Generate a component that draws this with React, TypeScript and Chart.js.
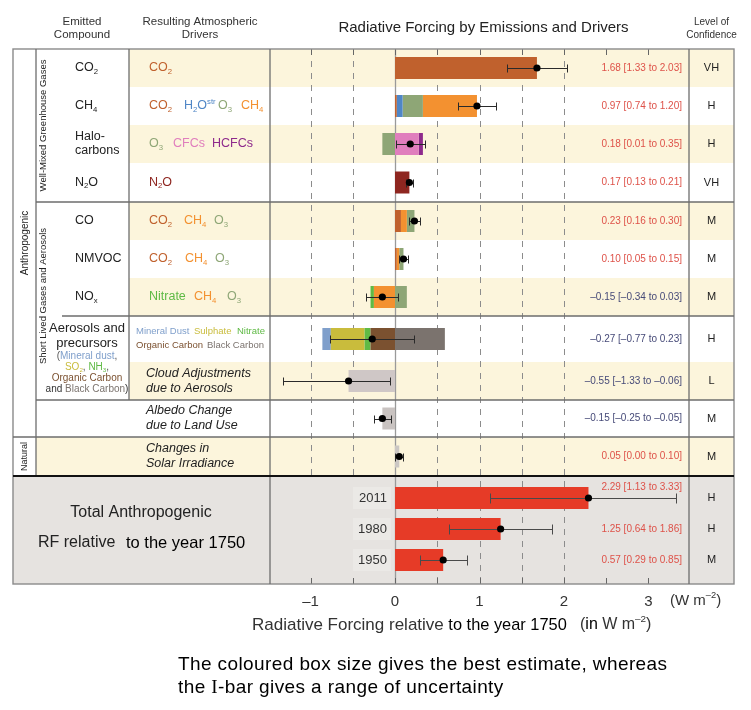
import React, { useEffect, useRef } from 'react';
import { Chart, registerables } from 'chart.js';

Chart.register(...registerables);

// ---------------- DATA (W m-2, relative to 1750) ----------------
const ROW_LABELS = [
  'CO2', 'CH4', 'Halocarbons', 'N2O', 'CO', 'NMVOC', 'NOx',
  'Aerosols and precursors', 'Cloud adjustments due to aerosols',
  'Albedo change due to land use', 'Changes in solar irradiance',
  'Total 2011', 'Total 1980', 'Total 1950',
];

// contributions per resulting driver (one entry per row above)
const CO2_DRV = [1.68, 0.02, 0, 0, 0.07, 0.02, 0, 0, 0, 0, 0, 0, 0, 0];
const H2O_STR_DRV = [0, 0.07, 0, 0, 0, 0, 0, 0, 0, 0, 0, 0, 0, 0];
const CH4_SL_DRV = [0, 0, 0, 0, 0.07, 0.03, -0.25, 0, 0, 0, 0, 0, 0, 0];
const O3_DRV = [0, 0.24, -0.15, 0, 0.09, 0.05, 0.14, 0, 0, 0, 0, 0, 0, 0];
const CH4_DRV = [0, 0.64, 0, 0, 0, 0, 0, 0, 0, 0, 0, 0, 0, 0];
const CFC_DRV = [0, 0, 0.28, 0, 0, 0, 0, 0, 0, 0, 0, 0, 0, 0];
const HCFC_DRV = [0, 0, 0.05, 0, 0, 0, 0, 0, 0, 0, 0, 0, 0, 0];
const N2O_DRV = [0, 0, 0, 0.17, 0, 0, 0, 0, 0, 0, 0, 0, 0, 0];
const OC_DRV = [0, 0, 0, 0, 0, 0, 0, -0.29, 0, 0, 0, 0, 0, 0];
const NITRATE_DRV = [0, 0, 0, 0, 0, 0, -0.04, -0.07, 0, 0, 0, 0, 0, 0];
const SULPHATE_DRV = [0, 0, 0, 0, 0, 0, 0, -0.40, 0, 0, 0, 0, 0, 0];
const DUST_DRV = [0, 0, 0, 0, 0, 0, 0, -0.10, 0, 0, 0, 0, 0, 0];
const BC_DRV = [0, 0, 0, 0, 0, 0, 0, 0.59, 0, 0, 0, 0, 0, 0];
const CLOUD_DRV = [0, 0, 0, 0, 0, 0, 0, 0, -0.55, 0, 0, 0, 0, 0];
const ALBEDO_DRV = [0, 0, 0, 0, 0, 0, 0, 0, 0, -0.15, 0, 0, 0, 0];
const SOLAR_DRV = [0, 0, 0, 0, 0, 0, 0, 0, 0, 0, 0.05, 0, 0, 0];
const TOTAL_DRV = [0, 0, 0, 0, 0, 0, 0, 0, 0, 0, 0, 2.29, 1.25, 0.57];

const BEST = [1.68, 0.97, 0.18, 0.17, 0.23, 0.10, -0.15, -0.27, -0.55, -0.15, 0.05, 2.29, 1.25, 0.57];
const ERR_LO = [1.33, 0.74, 0.01, 0.13, 0.16, 0.05, -0.34, -0.77, -1.33, -0.25, 0.00, 1.13, 0.64, 0.29];
const ERR_HI = [2.03, 1.20, 0.35, 0.21, 0.30, 0.15, 0.03, 0.23, -0.06, -0.05, 0.10, 3.33, 1.86, 0.85];
const CONFIDENCE = ['VH', 'H', 'H', 'VH', 'M', 'M', 'M', 'H', 'L', 'M', 'M', 'H', 'H', 'M'];
const YEARS = ['2011', '1980', '1950'];
const X_TICKS = [-1, 0, 1, 2, 3];
const X_MINOR = [-1, -0.5, 0, 0.5, 1, 1.5, 2, 2.5, 3];
const X_DASHED = [-1, -0.5, 0.5, 1, 1.5, 2];

// ---------------- LAYOUT / STYLE ----------------
const FONT = '"Liberation Sans", Arial, Helvetica, sans-serif';
const SERIF = '"Liberation Serif", "DejaVu Serif", serif';
const W = 751;
const H = 710;
const PLOT_TOP = 49;
const PLOT_LEFT = 270;
const PLOT_RIGHT = 689;
const AXIS_H = 30;
const PLOT_BOTTOM = 584;
const X_OUTER = 13;
const X_GROUP = 36;
const X_COMP = 129;
const X_END = 734;

const ROW_HEIGHTS = [38, 38, 38, 39, 38, 38, 38, 46, 38, 37, 39];
const TOTAL_PAD_TOP = 6.5;
const TOTAL_ROW = 31;
const TOTAL_PAD_BOTTOM = 8.5;
const ROW_TOPS: number[] = [];
const ROW_POS: number[] = [];
let acc = 0;
ROW_HEIGHTS.forEach((h) => { ROW_TOPS.push(acc); ROW_POS.push(acc + h / 2); acc += h; });
const TOTAL_TOP = acc;
acc += TOTAL_PAD_TOP;
for (let k = 0; k < YEARS.length; k++) { ROW_POS.push(acc + TOTAL_ROW / 2); acc += TOTAL_ROW; }
acc += TOTAL_PAD_BOTTOM;
const SPAN = acc;

const C = {
  co2: '#c0612d', h2o: '#4f86c6', o3: '#8ea676', ch4: '#f39130', cfc: '#e07ebd',
  hcfc: '#8e2a8c', n2o: '#8e2620', nit: '#5fba45', dust: '#7f9fcb', sul: '#c9bc3c',
  oc: '#7b5130', bc: '#7b736e', cloud: '#cfc7c6', alb: '#c9c3c1', sol: '#cbc7c4',
  tot: '#e63b27', beige: '#fcf5dc', totalBg: '#e6e3e0', pos: '#de5249', neg: '#464a78',
};

const SEGMENTS = [
  { label: 'CO2', data: CO2_DRV, color: C.co2 },
  { label: 'H2O (stratospheric)', data: H2O_STR_DRV, color: C.h2o },
  { label: 'CH4 (from short-lived gases)', data: CH4_SL_DRV, color: C.ch4 },
  { label: 'O3', data: O3_DRV, color: C.o3 },
  { label: 'CH4', data: CH4_DRV, color: C.ch4 },
  { label: 'CFCs', data: CFC_DRV, color: C.cfc },
  { label: 'HCFCs', data: HCFC_DRV, color: C.hcfc },
  { label: 'N2O', data: N2O_DRV, color: C.n2o },
  { label: 'Organic Carbon', data: OC_DRV, color: C.oc },
  { label: 'Nitrate', data: NITRATE_DRV, color: C.nit },
  { label: 'Sulphate', data: SULPHATE_DRV, color: C.sul },
  { label: 'Mineral Dust', data: DUST_DRV, color: C.dust },
  { label: 'Black Carbon', data: BC_DRV, color: C.bc },
  { label: 'Cloud adjustments', data: CLOUD_DRV, color: C.cloud },
  { label: 'Albedo change', data: ALBEDO_DRV, color: C.alb },
  { label: 'Solar irradiance', data: SOLAR_DRV, color: C.sol },
  { label: 'Total anthropogenic', data: TOTAL_DRV, color: C.tot },
];

type Run = { t: string; c?: string; s?: 'sub' | 'sup'; it?: boolean; fam?: string; sz?: number; wt?: string };

const r = (t: string, c?: string): Run => ({ t, c });
const sb = (t: string, c?: string): Run => ({ t, c, s: 'sub' });
const sp = (t: string, c?: string): Run => ({ t, c, s: 'sup' });

function runFont(run: Run, size: number) {
  const base = run.sz ?? size;
  const sz = run.s ? base * 0.62 : base;
  return `${run.it ? 'italic ' : ''}${run.wt ?? 'normal'} ${sz}px ${run.fam ?? FONT}`;
}

function drawRuns(ctx: CanvasRenderingContext2D, runs: Run[], x: number, y: number, size: number,
  align: 'left' | 'center' | 'right' = 'left', defColor = '#222') {
  let total = 0;
  const widths: number[] = [];
  for (const run of runs) {
    ctx.font = runFont(run, size);
    const w = ctx.measureText(run.t).width;
    widths.push(w);
    total += w;
  }
  let cx = align === 'left' ? x : align === 'center' ? x - total / 2 : x - total;
  ctx.textAlign = 'left';
  ctx.textBaseline = 'middle';
  runs.forEach((run, i) => {
    ctx.font = runFont(run, size);
    ctx.fillStyle = run.c ?? defColor;
    const base = run.sz ?? size;
    const dy = run.s === 'sub' ? base * 0.3 : run.s === 'sup' ? -base * 0.35 : 0;
    ctx.fillText(run.t, cx, y + dy);
    cx += widths[i];
  });
  return total;
}

function rotText(ctx: CanvasRenderingContext2D, t: string, x: number, y: number, size: number) {
  ctx.save();
  ctx.translate(x, y);
  ctx.rotate(-Math.PI / 2);
  ctx.font = `${size}px ${FONT}`;
  ctx.fillStyle = '#222';
  ctx.textAlign = 'center';
  ctx.textBaseline = 'middle';
  ctx.fillText(t, 0, 0);
  ctx.restore();
}

const COMPOUND_TEXT: { row: number; lines: Run[][] }[] = [
  { row: 0, lines: [[r('CO'), sb('2')]] },
  { row: 1, lines: [[r('CH'), sb('4')]] },
  { row: 2, lines: [[r('Halo-')], [r('carbons')]] },
  { row: 3, lines: [[r('N'), sb('2'), r('O')]] },
  { row: 4, lines: [[r('CO')]] },
  { row: 5, lines: [[r('NMVOC')]] },
  { row: 6, lines: [[r('NO'), sb('x')]] },
];

const DRIVER_TEXT: { row: number; dy: number; size: number; items: { x: number; runs: Run[] }[] }[] = [
  { row: 0, dy: 0, size: 12.5, items: [{ x: 149, runs: [r('CO', C.co2), sb('2', C.co2)] }] },
  { row: 1, dy: 0, size: 12.5, items: [
    { x: 149, runs: [r('CO', C.co2), sb('2', C.co2)] },
    { x: 184, runs: [r('H', C.h2o), sb('2', C.h2o), r('O', C.h2o), sp('str', C.h2o)] },
    { x: 218, runs: [r('O', C.o3), sb('3', C.o3)] },
    { x: 241, runs: [r('CH', C.ch4), sb('4', C.ch4)] },
  ] },
  { row: 2, dy: 0, size: 12.5, items: [
    { x: 149, runs: [r('O', C.o3), sb('3', C.o3)] },
    { x: 173, runs: [r('CFCs', C.cfc)] },
    { x: 212, runs: [r('HCFCs', C.hcfc)] },
  ] },
  { row: 3, dy: 0, size: 12.5, items: [{ x: 149, runs: [r('N', C.n2o), sb('2', C.n2o), r('O', C.n2o)] }] },
  { row: 4, dy: 0, size: 12.5, items: [
    { x: 149, runs: [r('CO', C.co2), sb('2', C.co2)] },
    { x: 184, runs: [r('CH', C.ch4), sb('4', C.ch4)] },
    { x: 214, runs: [r('O', C.o3), sb('3', C.o3)] },
  ] },
  { row: 5, dy: 0, size: 12.5, items: [
    { x: 149, runs: [r('CO', C.co2), sb('2', C.co2)] },
    { x: 185, runs: [r('CH', C.ch4), sb('4', C.ch4)] },
    { x: 215, runs: [r('O', C.o3), sb('3', C.o3)] },
  ] },
  { row: 6, dy: 0, size: 12.5, items: [
    { x: 149, runs: [r('Nitrate', C.nit)] },
    { x: 194, runs: [r('CH', C.ch4), sb('4', C.ch4)] },
    { x: 227, runs: [r('O', C.o3), sb('3', C.o3)] },
  ] },
  { row: 7, dy: -8, size: 9.5, items: [
    { x: 136, runs: [r('Mineral Dust', C.dust)] },
    { x: 194, runs: [r('Sulphate', C.sul)] },
    { x: 237, runs: [r('Nitrate', C.nit)] },
  ] },
  { row: 7, dy: 6, size: 9.5, items: [
    { x: 136, runs: [r('Organic Carbon', C.oc)] },
    { x: 207, runs: [r('Black Carbon', C.bc)] },
  ] },
];

const ITALIC_TEXT: { row: number; lines: string[] }[] = [
  { row: 8, lines: ['Cloud Adjustments', 'due to Aerosols'] },
  { row: 9, lines: ['Albedo Change', 'due to Land Use'] },
  { row: 10, lines: ['Changes in', 'Solar Irradiance'] },
];

const fmt = (v: number) => (v < 0 ? '\u2013' : '') + Math.abs(v).toFixed(2);
const fmtTick = (v: number) => (v < 0 ? '\u2013' + Math.abs(v) : String(v));

const tablePlugin = {
  id: 'rfTable',
  beforeDraw(chart: any) {
    const { ctx, chartArea } = chart;
    const xs = chart.scales.x;
    const ys = chart.scales.y;
    const py = (v: number) => ys.getPixelForValue(v);
    ctx.save();
    ctx.fillStyle = '#fff';
    ctx.fillRect(0, 0, W, H);
    // beige stripes
    ctx.fillStyle = C.beige;
    [0, 2, 4, 6, 8].forEach((i) => {
      ctx.fillRect(X_COMP, py(ROW_TOPS[i]), X_END - X_COMP, py(ROW_TOPS[i] + ROW_HEIGHTS[i]) - py(ROW_TOPS[i]));
    });
    ctx.fillRect(X_GROUP, py(ROW_TOPS[10]), X_END - X_GROUP, py(ROW_TOPS[10] + ROW_HEIGHTS[10]) - py(ROW_TOPS[10]));
    // total section
    ctx.fillStyle = C.totalBg;
    ctx.fillRect(X_OUTER, py(TOTAL_TOP), X_END - X_OUTER, py(SPAN) - py(TOTAL_TOP));
    // year label boxes
    ctx.fillStyle = '#ebe9e6';
    YEARS.forEach((_, k) => {
      const y = py(ROW_POS[11 + k]);
      ctx.fillRect(353, y - 11, 38, 22);
    });
    // dashed grid
    ctx.strokeStyle = '#8c8c8c';
    ctx.lineWidth = 1;
    ctx.setLineDash([6, 6]);
    X_DASHED.forEach((v) => {
      const x = Math.round(xs.getPixelForValue(v)) + 0.5;
      ctx.beginPath();
      ctx.moveTo(x, chartArea.top);
      ctx.lineTo(x, v < 0 ? py(TOTAL_TOP) : chartArea.bottom);
      ctx.stroke();
    });
    ctx.setLineDash([]);
    // zero line
    ctx.strokeStyle = '#9a9a9a';
    ctx.lineWidth = 1.3;
    const x0 = Math.round(xs.getPixelForValue(0)) + 0.5;
    ctx.beginPath();
    ctx.moveTo(x0, chartArea.top);
    ctx.lineTo(x0, chartArea.bottom);
    ctx.stroke();
    // inner ticks
    ctx.strokeStyle = '#666';
    ctx.lineWidth = 1;
    X_MINOR.forEach((v) => {
      const x = Math.round(xs.getPixelForValue(v)) + 0.5;
      ctx.beginPath();
      ctx.moveTo(x, chartArea.top);
      ctx.lineTo(x, chartArea.top + 6);
      ctx.moveTo(x, chartArea.bottom);
      ctx.lineTo(x, chartArea.bottom - 6);
      ctx.stroke();
    });
    ctx.restore();
  },
  beforeDatasetDraw(chart: any, args: any) {
    if (chart.data.datasets[args.index].type !== 'scatter') return;
    const { ctx } = chart;
    const xs = chart.scales.x;
    const ys = chart.scales.y;
    ctx.save();
    BEST.forEach((_, i) => {
      const y = Math.round(ys.getPixelForValue(ROW_POS[i])) + 0.5;
      const a = Math.round(xs.getPixelForValue(ERR_LO[i])) + 0.5;
      const b = Math.round(xs.getPixelForValue(ERR_HI[i])) + 0.5;
      const total = i >= 11;
      const cap = total ? 5 : 4;
      ctx.strokeStyle = total ? '#4a4a4a' : '#2a2a2a';
      ctx.lineWidth = 1;
      ctx.beginPath();
      ctx.moveTo(a, y); ctx.lineTo(b, y);
      ctx.moveTo(a, y - cap); ctx.lineTo(a, y + cap);
      ctx.moveTo(b, y - cap); ctx.lineTo(b, y + cap);
      ctx.stroke();
    });
    ctx.restore();
  },
  afterDraw(chart: any) {
    const { ctx, chartArea } = chart;
    const ys = chart.scales.y;
    const py = (v: number) => ys.getPixelForValue(v);
    const L = chartArea.left;
    const R = chartArea.right;
    const T = chartArea.top;
    const B = chartArea.bottom;
    ctx.save();
    const hline = (y: number, x1: number, x2: number, col = '#6d6d6d', w = 1.3) => {
      ctx.strokeStyle = col; ctx.lineWidth = w;
      ctx.beginPath(); ctx.moveTo(x1, y); ctx.lineTo(x2, y); ctx.stroke();
    };
    const vline = (x: number, y1: number, y2: number, col = '#6d6d6d', w = 1.3) => {
      ctx.strokeStyle = col; ctx.lineWidth = w;
      ctx.beginPath(); ctx.moveTo(x, y1); ctx.lineTo(x, y2); ctx.stroke();
    };
    // frame & grid of the table
    ctx.strokeStyle = '#8a8a8a';
    ctx.lineWidth = 1.4;
    ctx.strokeRect(X_OUTER, T, X_END - X_OUTER, B - T);
    vline(X_GROUP, T, py(TOTAL_TOP));
    vline(X_COMP, T, py(ROW_TOPS[9]));
    vline(L, T, B);
    vline(R, T, B);
    hline(py(ROW_TOPS[4]), X_GROUP, X_END);
    hline(py(ROW_TOPS[7]), 62, X_END);
    hline(py(ROW_TOPS[9]), X_GROUP, X_END);
    hline(py(ROW_TOPS[10]), X_OUTER, X_END);
    hline(py(TOTAL_TOP), X_OUTER, X_END, '#111', 2);

    // headers
    drawRuns(ctx, [r('Emitted')], 82, 22, 11.5, 'center', '#333');
    drawRuns(ctx, [r('Compound')], 82, 35, 11.5, 'center', '#333');
    drawRuns(ctx, [r('Resulting Atmospheric')], 200, 22, 11.5, 'center', '#333');
    drawRuns(ctx, [r('Drivers')], 200, 35, 11.5, 'center', '#333');
    drawRuns(ctx, [r('Radiative Forcing by Emissions and Drivers')], (L + R) / 2 + 4, 28, 15, 'center', '#222');
    drawRuns(ctx, [r('Level of')], (R + X_END) / 2, 22, 10, 'center', '#333');
    drawRuns(ctx, [r('Confidence')], (R + X_END) / 2, 35, 10, 'center', '#333');

    // group labels
    rotText(ctx, 'Anthropogenic', 25, (T + py(ROW_TOPS[10])) / 2, 10);
    rotText(ctx, 'Natural', 25, (py(ROW_TOPS[10]) + py(TOTAL_TOP)) / 2, 9);
    rotText(ctx, 'Well-Mixed Greenhouse Gases', 43, (T + py(ROW_TOPS[4])) / 2, 9.5);
    rotText(ctx, 'Short Lived Gases and Aerosols', 43, (py(ROW_TOPS[4]) + py(ROW_TOPS[9])) / 2 - 5, 9.5);

    // compounds
    COMPOUND_TEXT.forEach(({ row, lines }) => {
      const cy = py(ROW_POS[row]);
      const n = lines.length;
      lines.forEach((runs, k) => {
        drawRuns(ctx, runs, 75, cy + (k - (n - 1) / 2) * 14, 12.5, 'left', '#222');
      });
    });
    // aerosol compound block
    const at = py(ROW_TOPS[7]);
    drawRuns(ctx, [r('Aerosols and')], 87, at + 12, 13, 'center', '#222');
    drawRuns(ctx, [r('precursors')], 87, at + 27, 13, 'center', '#222');
    drawRuns(ctx, [r('(', '#555'), r('Mineral dust', C.dust), r(',', '#555')], 87, at + 40, 10, 'center');
    drawRuns(ctx, [r('SO', C.sul), sb('2', C.sul), r(', ', '#555'), r('NH', C.nit), sb('3', C.nit), r(',', '#555')], 87, at + 51, 10, 'center');
    drawRuns(ctx, [r('Organic Carbon', C.oc)], 87, at + 62, 10, 'center');
    drawRuns(ctx, [r('and ', '#333'), r('Black Carbon', C.bc), r(')', '#333')], 87, at + 73, 10, 'center');

    // drivers
    DRIVER_TEXT.forEach(({ row, dy, size, items }) => {
      const cy = py(ROW_POS[row]) + dy;
      items.forEach((it) => drawRuns(ctx, it.runs, it.x, cy, size, 'left'));
    });
    ITALIC_TEXT.forEach(({ row, lines }) => {
      const cy = py(ROW_POS[row]);
      lines.forEach((t, k) => {
        drawRuns(ctx, [{ t, it: true }], 146, cy - 7.5 + k * 15, 12.5, 'left', '#222');
      });
    });

    // values and confidence
    BEST.forEach((b, i) => {
      const cy = py(ROW_POS[i]) + (i === 11 ? -11 : 0);
      drawRuns(ctx, [r(`${fmt(b)} [${fmt(ERR_LO[i])} to ${fmt(ERR_HI[i])}]`)], 682, cy, 10, 'right', b < 0 ? C.neg : C.pos);
      drawRuns(ctx, [r(CONFIDENCE[i])], (R + X_END) / 2, py(ROW_POS[i]), 11, 'center', '#222');
    });

    // total section
    YEARS.forEach((yr, k) => {
      drawRuns(ctx, [r(yr)], 387, py(ROW_POS[11 + k]), 13, 'right', '#333');
    });
    const tt = py(TOTAL_TOP);
    drawRuns(ctx, [r('Total Anthropogenic')], 141, tt + 37, 16, 'center', '#222');
    drawRuns(ctx, [r('RF relative')], 38, tt + 67, 16, 'left', '#222');
    drawRuns(ctx, [r('to the year 1750')], 126, tt + 67, 16.5, 'left', '#000');

    // axis unit and title
    drawRuns(ctx, [r('(W m'), sp('\u20132'), r(')')], 670, 601, 15, 'left', '#333');
    drawRuns(ctx, [r('Radiative Forcing relative', '#333'), { t: ' to the year 1750', c: '#000', sz: 16.4 }], 252, 625, 17, 'left');
    drawRuns(ctx, [r('(', '#333'), r('in', '#000'), r(' W m', '#333'), sp('\u20132', '#333'), r(')', '#333')], 580, 625, 16, 'left');

    // footnote
    (ctx as any).letterSpacing = '0.4px';
    drawRuns(ctx, [r('The coloured box size gives the best estimate, whereas')], 178, 665, 19, 'left', '#000');
    drawRuns(ctx, [r('the '), { t: 'I', fam: SERIF }, r('-bar gives a range of uncertainty')], 178, 688, 19, 'left', '#000');
    (ctx as any).letterSpacing = '0px';
    ctx.restore();
  },
};

export default function App() {
  const ref = useRef<HTMLCanvasElement>(null);
  useEffect(() => {
    const canvas = ref.current;
    if (!canvas) return;
    const datasets: any[] = [
      {
        type: 'scatter',
        label: 'Best estimate',
        data: BEST.map((v, i) => ({ x: v, y: ROW_POS[i] })),
        pointRadius: 3.6,
        pointBackgroundColor: '#000',
        pointBorderColor: '#000',
        pointBorderWidth: 0,
        stack: 'dots',
        order: 0,
      },
      ...SEGMENTS.map((s) => ({
        type: 'bar',
        label: s.label,
        data: s.data,
        backgroundColor: s.color,
        borderWidth: 0,
        barThickness: 22,
        inflateAmount: 0,
        stack: 'rf',
        order: 1,
      })),
    ];
    const chart = new Chart(canvas, {
      type: 'bar',
      data: { labels: ROW_POS, datasets },
      options: {
        indexAxis: 'y',
        responsive: false,
        animation: false,
        devicePixelRatio: 1,
        events: [],
        layout: { padding: { left: PLOT_LEFT, right: W - PLOT_RIGHT, top: PLOT_TOP, bottom: H - PLOT_BOTTOM - AXIS_H } },
        plugins: { legend: { display: false }, tooltip: { enabled: false } },
        scales: {
          x: {
            type: 'linear',
            min: -1.48,
            max: 3.48,
            stacked: true,
            position: 'bottom',
            grid: { display: false, drawTicks: false },
            border: { display: false },
            afterBuildTicks: (s: any) => { s.ticks = X_TICKS.map((v) => ({ value: v })); },
            afterFit: (s: any) => { s.height = AXIS_H; },
            ticks: {
              padding: 9,
              color: '#333',
              maxRotation: 0,
              autoSkip: false,
              font: { family: FONT, size: 15 },
              callback: (v: any) => fmtTick(Number(v)),
            },
          },
          y: { type: 'linear', min: 0, max: SPAN, reverse: true, stacked: true, offset: false, display: false, grid: { offset: false } },
        },
      } as any,
      plugins: [tablePlugin],
    } as any);
    return () => chart.destroy();
  }, []);
  return (
    <div style={{ position: 'absolute', left: 0, top: 0, width: W, height: H, background: '#fff' }}>
      <canvas ref={ref} width={W} height={H} style={{ width: W, height: H, display: 'block' }} aria-label={ROW_LABELS.join(', ')} />
    </div>
  );
}
